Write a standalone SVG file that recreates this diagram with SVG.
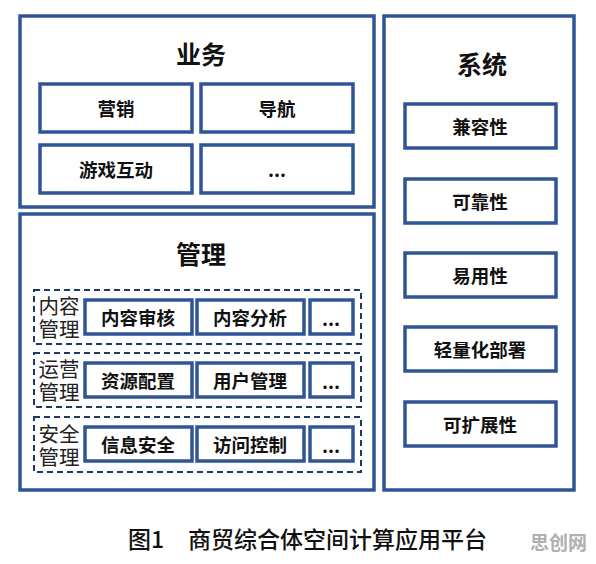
<svg xmlns="http://www.w3.org/2000/svg" width="596" height="564" viewBox="0 0 596 564">
<style>
.outer{fill:#fff;stroke:#2f5597;stroke-width:3.5}
.box{fill:#fff;stroke:#2f5597;stroke-width:3.5}
.grp{fill:none;stroke:#1f3864;stroke-width:2;stroke-dasharray:6 4}
.t{font-family:"Noto Sans CJK SC","Noto Sans",sans-serif;fill:#111;text-anchor:middle;dominant-baseline:central}
.h{font-size:25px;font-weight:bold}
.b{font-size:18.5px;font-weight:bold}
.l{font-size:20.5px;font-weight:normal;fill:#222}
.cap{font-family:"Noto Sans CJK SC","Noto Sans",sans-serif;font-size:23px;font-weight:500;fill:#111;dominant-baseline:central}
</style>
<rect width="596" height="564" fill="#fff"/>
<g id="business">
<rect class="outer" x="20" y="16" width="354" height="191"/>
<text class="t h" x="201" y="53">业务</text>
<g id="b1"><rect class="box" x="40" y="84" width="152" height="48"/><text class="t b" x="116" y="108">营销</text></g>
<g id="b2"><rect class="box" x="201" y="84" width="152" height="48"/><text class="t b" x="277" y="108">导航</text></g>
<g id="b3"><rect class="box" x="40" y="145" width="152" height="48"/><text class="t b" x="116" y="169">游戏互动</text></g>
<g id="b4"><rect class="box" x="201" y="145" width="152" height="48"/><text class="t b" x="277" y="169">...</text></g>
</g>
<g id="management">
<rect class="outer" x="20" y="214" width="354" height="276"/>
<text class="t h" x="201" y="253">管理</text>
<g id="m-content">
<rect class="grp" x="34" y="290" width="327" height="54"/>
<text class="t l" x="59" y="305"><tspan x="59">内容</tspan><tspan x="59" dy="23">管理</tspan></text>
<g id="m11"><rect class="box" x="85" y="300" width="107" height="34"/><text class="t b" x="138" y="317">内容审核</text></g>
<g id="m12"><rect class="box" x="197" y="300" width="107" height="34"/><text class="t b" x="250" y="317">内容分析</text></g>
<g id="m13"><rect class="box" x="310" y="300" width="43" height="34"/><text class="t b" x="331" y="318">...</text></g>
</g>
<g id="m-ops">
<rect class="grp" x="34" y="353" width="327" height="54"/>
<text class="t l" x="59" y="368"><tspan x="59">运营</tspan><tspan x="59" dy="23">管理</tspan></text>
<g id="m21"><rect class="box" x="85" y="363" width="107" height="34"/><text class="t b" x="138" y="380">资源配置</text></g>
<g id="m22"><rect class="box" x="197" y="363" width="107" height="34"/><text class="t b" x="250" y="380">用户管理</text></g>
<g id="m23"><rect class="box" x="310" y="363" width="43" height="34"/><text class="t b" x="331" y="381">...</text></g>
</g>
<g id="m-sec">
<rect class="grp" x="34" y="417" width="327" height="55"/>
<text class="t l" x="59" y="433"><tspan x="59">安全</tspan><tspan x="59" dy="23">管理</tspan></text>
<g id="m31"><rect class="box" x="85" y="427" width="107" height="34"/><text class="t b" x="138" y="444">信息安全</text></g>
<g id="m32"><rect class="box" x="197" y="427" width="107" height="34"/><text class="t b" x="250" y="444">访问控制</text></g>
<g id="m33"><rect class="box" x="310" y="427" width="43" height="34"/><text class="t b" x="331" y="445">...</text></g>
</g>
</g>
<g id="system">
<rect class="outer" x="384" y="16" width="190" height="474"/>
<text class="t h" x="482" y="63">系统</text>
<g id="s1"><rect class="box" x="405" y="104" width="151" height="44"/><text class="t b" x="480" y="126">兼容性</text></g>
<g id="s2"><rect class="box" x="405" y="179" width="151" height="44"/><text class="t b" x="480" y="201">可靠性</text></g>
<g id="s3"><rect class="box" x="405" y="253" width="151" height="44"/><text class="t b" x="480" y="275">易用性</text></g>
<g id="s4"><rect class="box" x="405" y="327" width="151" height="44"/><text class="t b" x="480" y="349">轻量化部署</text></g>
<g id="s5"><rect class="box" x="405" y="402" width="151" height="44"/><text class="t b" x="480" y="424">可扩展性</text></g>
</g>
<g id="connectors"></g>
<text class="cap" x="128" y="538">图1</text>
<text class="cap" x="188" y="538">商贸综合体空间计算应用平台</text>
<text x="530" y="541" font-family="'Noto Sans CJK SC',sans-serif" font-size="19" font-weight="bold" fill="#b0b0b0" dominant-baseline="central">思创网</text>
</svg>
